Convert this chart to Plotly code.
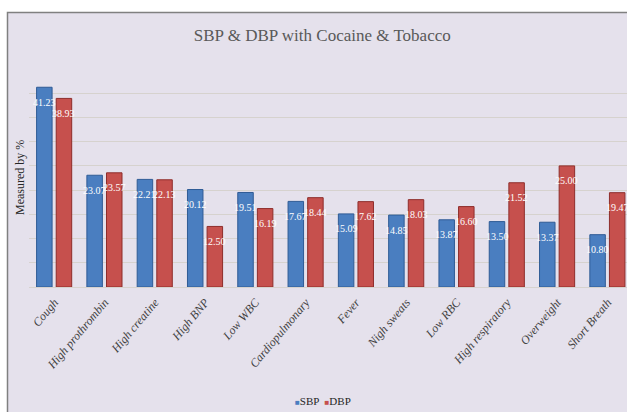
import plotly.graph_objects as go

categories = ["Cough", "High prothrombin", "High creatine", "High BNP", "Low WBC",
              "Cardiopulmonary", "Fever", "Nigh sweats", "Low RBC", "High respiratory",
              "Overweight", "Short Breath"]
sbp = [41.23, 23.07, 22.21, 20.12, 19.51, 17.67, 15.09, 14.85, 13.87, 13.50, 13.37, 10.80]
dbp = [38.93, 23.57, 22.13, 12.50, 16.19, 18.44, 17.62, 18.03, 16.60, 21.52, 25.00, 19.47]
series_names = ["SBP", "DBP"]
title_text = "SBP & DBP with Cocaine & Tobacco"
y_title = "Measured by %"

W, H = 627, 412
ML, MR, MT, MB = 29, 0, 69, 125
PW, PH = W - ML - MR, H - MT - MB

BLUE, BLUE_EDGE = "#4A7EC0", "#2F5B95"
RED, RED_EDGE = "#C6504D", "#8E2D2B"
SERIF = "Liberation Serif"

def px_x(px):
    return (px - ML) / PW

def px_y(py):
    return (H - MB - py) / PH

fig = go.Figure()
fig.add_trace(go.Bar(x=categories, y=sbp, name=series_names[0],
                     marker=dict(color=BLUE, line=dict(color=BLUE_EDGE, width=1)),
                     showlegend=False, hoverinfo="x+y"))
fig.add_trace(go.Bar(x=categories, y=dbp, name=series_names[1],
                     marker=dict(color=RED, line=dict(color=RED_EDGE, width=1)),
                     showlegend=False, hoverinfo="x+y"))

annotations = []
for cat, a, b in zip(categories, sbp, dbp):
    for val, shift in ((a, -9.8), (b, 9.8)):
        annotations.append(dict(x=cat, y=val, xref="x", yref="y", xshift=shift, yshift=-15,
                                text=f"{val:.2f}", showarrow=False, yanchor="middle",
                                font=dict(family=SERIF, size=10, color="white")))

# y-axis title
annotations.append(dict(x=px_x(20), y=0.5, xref="paper", yref="paper", text=y_title,
                        textangle=-90, showarrow=False, xanchor="center", yanchor="middle",
                        font=dict(family=SERIF, size=12, color="#262626")))
# legend
legend_text = (f"<span style='color:{BLUE};font-size:8px'>■</span>{series_names[0]}  "
               f"<span style='color:{RED};font-size:8px'>■</span>{series_names[1]}")
annotations.append(dict(x=px_x(323), y=px_y(401), xref="paper", yref="paper", text=legend_text,
                        showarrow=False, xanchor="center", yanchor="middle",
                        font=dict(family=SERIF, size=11, color="#262626")))

shapes = [dict(type="rect", xref="paper", yref="paper", layer="below",
               x0=px_x(7.5), x1=px_x(660), y0=px_y(12.5), y1=px_y(440),
               fillcolor="#E5E1EC", line=dict(color="#808080", width=1.5))]

fig.update_layout(
    width=W, height=H,
    margin=dict(l=ML, r=MR, t=MT, b=MB),
    paper_bgcolor="white", plot_bgcolor="#E5E1EC",
    barmode="group", bargap=0.22, bargroupgap=0.21,
    title=dict(text=title_text, x=0.514, xanchor="center", y=1 - 35 / H, yanchor="middle",
               font=dict(family=SERIF, size=17, color="#595959")),
    xaxis=dict(type="category", range=[-0.5, 11.39], showgrid=False, showline=False,
               zeroline=False, ticks="", tickangle=-50, ticklabelstandoff=5,
               tickfont=dict(family=SERIF, size=12, color="#404040", style="italic")),
    yaxis=dict(range=[0, 45], dtick=5, showticklabels=False, showgrid=True,
               gridcolor="#D6D2CE", gridwidth=1, zeroline=True, zerolinecolor="#D6D2CE",
               zerolinewidth=1, showline=False, ticks=""),
    annotations=annotations, shapes=shapes,
    showlegend=False,
)

fig.write_html("out.html", config={"displayModeBar": False},
               post_script="document.body.style.margin='0';document.body.style.overflow='hidden';")
